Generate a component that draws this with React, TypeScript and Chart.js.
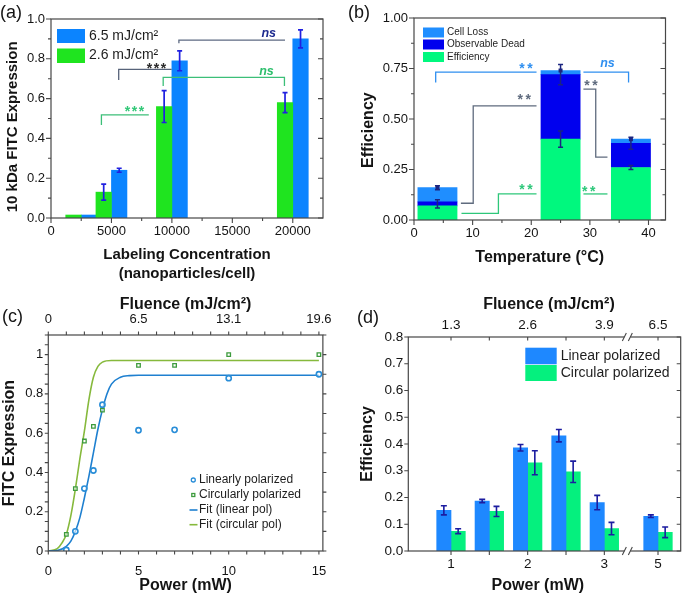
import React, { useEffect, useRef } from 'react';
import { Chart, registerables } from 'chart.js';

Chart.register(...registerables);

const FONT = '"Liberation Sans", Arial, Helvetica, sans-serif';
const INK = '#141414';
const FRAME = '#474747';
Chart.defaults.font.family = FONT;
Chart.defaults.color = INK;

/* ---------------- panel (a) ---------------- */
const concA = [2500, 5000, 10000, 20000];
const fitc26A = [0.015, 0.13, 0.56, 0.58];
const fitc26ErrA = [0, 0.04, 0.08, 0.05];
const fitc65A = [0.015, 0.24, 0.79, 0.9];
const fitc65ErrA = [0, 0.01, 0.05, 0.045];
const seriesA = ['2.6 mJ/cm²', '6.5 mJ/cm²'];
const concTicksA = [0, 5000, 10000, 15000, 20000];
const concMinorA = [2500, 7500, 12500, 17500];
const fitcTicksA = [0, 0.2, 0.4, 0.6, 0.8, 1];
const fitcMinorA = [0.1, 0.3, 0.5, 0.7, 0.9];
const bracketsA = [
  { color: '#57637a', pts: [[5600, 0.693], [5600, 0.747], [9980, 0.747]] },
  { color: '#5d6a82', pts: [[10580, 0.878], [10580, 0.894], [19360, 0.894]] },
  { color: '#3cbf78', pts: [[9280, 0.663], [9280, 0.707], [19310, 0.707], [19310, 0.663]] },
  { color: '#3cbf78', pts: [[4170, 0.467], [4170, 0.518], [8090, 0.518]] },
];
const marksA = [
  { text: '***', x: 8730, y: 0.769, color: '#2b2b2b' },
  { text: 'ns', x: 18010, y: 0.928, color: '#1d2a8f' },
  { text: 'ns', x: 17820, y: 0.735, color: '#2cbf6c' },
  { text: '***', x: 6900, y: 0.554, color: '#33c878' },
];

/* ---------------- panel (b) ---------------- */
const tempB = [4, 25, 37];
const effB = [0.07, 0.4, 0.26];
const deadB = [0.02, 0.32, 0.12];
const lossB = [0.07, 0.02, 0.02];
const seriesB = ['Cell Loss', 'Observable Dead', 'Efficiency'];
const totalMeanB = [0.16, 0.74, 0.4];
const totalLowB = [0.15, 0.67, 0.35];
const totalHighB = [0.17, 0.77, 0.41];
const effLowB = [0.06, 0.36, 0.25];
const effHighB = [0.1, 0.44, 0.27];
const tempTicksB = [0, 10, 20, 30, 40];
const tempMinorB = [5, 15, 25, 35];
const effTicksB = [0, 0.25, 0.5, 0.75, 1];
const effMinorB = [0.125, 0.375, 0.625, 0.875];
const bracketsB = [
  { color: '#2f8ff0', pts: [[3.7, 0.681], [3.7, 0.732], [20.9, 0.732]] },
  { color: '#2f8ff0', pts: [[28.9, 0.732], [36.6, 0.732], [36.6, 0.681]] },
  { color: '#5f6b7e', pts: [[8.0, 0.083], [10.1, 0.083], [10.1, 0.565], [20.9, 0.565]] },
  { color: '#5f6b7e', pts: [[28.9, 0.648], [31.0, 0.648], [31.0, 0.311], [33.0, 0.311]] },
  { color: '#2ec77a', pts: [[8.1, 0.033], [14.4, 0.033], [14.4, 0.129], [20.9, 0.129]] },
  { color: '#2ec77a', pts: [[28.9, 0.129], [33.0, 0.129]] },
];
const marksB = [
  { text: '**', x: 19.1, y: 0.769, color: '#2f8ff0' },
  { text: 'ns', x: 33.0, y: 0.776, color: '#2f8ff0' },
  { text: '**', x: 18.8, y: 0.612, color: '#5f6b7e' },
  { text: '**', x: 30.2, y: 0.683, color: '#5f6b7e' },
  { text: '**', x: 19.1, y: 0.169, color: '#2ec77a' },
  { text: '**', x: 29.8, y: 0.157, color: '#2ec77a' },
];

/* ---------------- panel (c) ---------------- */
const powerC = [1, 1.5, 2, 2.5, 3, 5, 7, 10, 15];
const linearC = [0.005, 0.1, 0.318, 0.41, 0.745, 0.615, 0.617, 0.88, 0.9];
const circularC = [0.085, 0.318, 0.56, 0.635, 0.718, 0.945, 0.945, 1.0, 1.0];
const fitLinPowerC = [0, 0.5, 1, 1.25, 1.5, 1.75, 2, 2.25, 2.5, 2.75, 3, 3.25, 3.5, 4, 4.5, 5, 15];
const fitLinValueC = [0, 0.003, 0.024, 0.05, 0.1, 0.17, 0.27, 0.38, 0.5, 0.62, 0.72, 0.8, 0.85, 0.885, 0.893, 0.895, 0.895];
const fitCirPowerC = [0, 0.5, 0.75, 1, 1.25, 1.5, 1.75, 2, 2.25, 2.5, 2.75, 3, 3.5, 15];
const fitCirValueC = [0, 0.012, 0.04, 0.085, 0.18, 0.315, 0.47, 0.61, 0.77, 0.885, 0.94, 0.962, 0.97, 0.97];
const seriesC = ['Linearly polarized', 'Circularly polarized', 'Fit (linear pol)', 'Fit (circular pol)'];
const powerTicksC = [0, 5, 10, 15];
const fluenceLabelsC = ['0', '6.5', '13.1', '19.6'];
const exprTicksC = [0, 0.2, 0.4, 0.6, 0.8, 1];

/* ---------------- panel (d) ---------------- */
const powerD = [1, 1.5, 2, 2.5, 3, 5];
const linD = [0.152, 0.187, 0.386, 0.431, 0.181, 0.13];
const linErrD = [0.017, 0.006, 0.012, 0.023, 0.027, 0.005];
const circD = [0.074, 0.148, 0.33, 0.296, 0.084, 0.07];
const circErrD = [0.009, 0.019, 0.045, 0.04, 0.023, 0.02];
const seriesD = ['Linear polarized', 'Circular polarized'];
const powerTicksD = [1, 2, 3, 5];
const powerMinorD = [1.5, 2.5];
const fluenceLabelsD = ['1.3', '2.6', '3.9', '6.5'];
const effTicksD = [0, 0.1, 0.2, 0.3, 0.4, 0.5, 0.6, 0.7, 0.8];
const BREAK_D = [3.3, 4.6];
const toAxisD = (p: number) => (p > BREAK_D[0] ? p - (BREAK_D[1] - BREAK_D[0]) : p);

/* ---------------- helpers ---------------- */
function baseOptions(padding: any) {
  return {
    responsive: false,
    maintainAspectRatio: false,
    animation: false,
    devicePixelRatio: 1,
    events: [],
    layout: { padding },
    plugins: { legend: { display: false }, tooltip: { enabled: false }, title: { display: false } },
  };
}

function ax(position: string, min: number, max: number, tickValues: number[], label: any, fixed: number, pad: number, fontSize: number, title?: any) {
  const horizontal = position === 'top' || position === 'bottom';
  return {
    type: 'linear',
    position,
    min,
    max,
    offset: false,
    grid: { display: false, drawTicks: false, offset: false },
    border: { display: false },
    afterBuildTicks: (s: any) => {
      s.ticks = tickValues.map((value) => ({ value }));
    },
    afterFit: (s: any) => {
      if (horizontal) s.height = fixed;
      else s.width = fixed;
    },
    ticks: {
      padding: pad,
      font: { family: FONT, size: fontSize },
      color: INK,
      maxRotation: 0,
      minRotation: 0,
      autoSkip: false,
      callback: label,
    },
    title: title ? { display: true, color: INK, ...title } : { display: false },
  };
}

const bold = (size: number, lineHeight = 1.2) => ({ family: FONT, size, weight: 'bold', lineHeight });

function decor(draw: (chart: any) => void) {
  return {
    id: 'decor',
    afterDraw(chart: any) {
      const ctx = chart.ctx;
      ctx.save();
      draw(chart);
      ctx.restore();
    },
  };
}

function frame(chart: any) {
  const { ctx, chartArea: a } = chart;
  ctx.strokeStyle = FRAME;
  ctx.lineWidth = 1.2;
  ctx.strokeRect(a.left, a.top, a.right - a.left, a.bottom - a.top);
}

function tickMarks(chart: any, scaleId: string, values: number[], side: string, len: number, outward: boolean) {
  const { ctx, chartArea: a } = chart;
  const s = chart.scales[scaleId];
  const d = outward ? len : -len;
  ctx.strokeStyle = FRAME;
  ctx.lineWidth = 1.1;
  ctx.beginPath();
  for (const v of values) {
    const p = s.getPixelForValue(v);
    if (side === 'left') { ctx.moveTo(a.left, p); ctx.lineTo(a.left - d, p); }
    else if (side === 'right') { ctx.moveTo(a.right, p); ctx.lineTo(a.right + d, p); }
    else if (side === 'top') { ctx.moveTo(p, a.top); ctx.lineTo(p, a.top - d); }
    else { ctx.moveTo(p, a.bottom); ctx.lineTo(p, a.bottom + d); }
  }
  ctx.stroke();
}

function errorBars(chart: any, dsIndex: number, lo: number[], hi: number[], color: string, cap: number, lw: number) {
  const ctx = chart.ctx;
  const meta = chart.getDatasetMeta(dsIndex);
  const ys = chart.scales.y;
  ctx.strokeStyle = color;
  ctx.lineWidth = lw;
  meta.data.forEach((el: any, i: number) => {
    if (!(hi[i] - lo[i] > 0)) return;
    const x = el.x;
    const y1 = ys.getPixelForValue(lo[i]);
    const y2 = ys.getPixelForValue(hi[i]);
    ctx.beginPath();
    ctx.moveTo(x, y1); ctx.lineTo(x, y2);
    ctx.moveTo(x - cap / 2, y1); ctx.lineTo(x + cap / 2, y1);
    ctx.moveTo(x - cap / 2, y2); ctx.lineTo(x + cap / 2, y2);
    ctx.stroke();
  });
}

function drawBrackets(chart: any, list: any[]) {
  const { ctx } = chart;
  const xs = chart.scales.x;
  const ys = chart.scales.y;
  ctx.lineWidth = 1.3;
  for (const b of list) {
    ctx.strokeStyle = b.color;
    ctx.beginPath();
    b.pts.forEach(([x, y]: number[], i: number) => {
      const px = xs.getPixelForValue(x);
      const py = ys.getPixelForValue(y);
      if (i) ctx.lineTo(px, py);
      else ctx.moveTo(px, py);
    });
    ctx.stroke();
  }
}

function drawMarks(chart: any, list: any[], starGap: number) {
  const { ctx } = chart;
  const xs = chart.scales.x;
  const ys = chart.scales.y;
  for (const m of list) {
    const px = xs.getPixelForValue(m.x);
    const py = ys.getPixelForValue(m.y);
    ctx.fillStyle = m.color;
    ctx.textAlign = 'center';
    ctx.textBaseline = 'alphabetic';
    if (m.text.startsWith('*')) {
      const size = 14;
      ctx.font = `bold ${size}px ${FONT}`;
      const n = m.text.length;
      for (let i = 0; i < n; i++) ctx.fillText('*', px + (i - (n - 1) / 2) * starGap, py + 0.58 * size);
    } else {
      ctx.font = `italic bold 12.5px ${FONT}`;
      ctx.fillText(m.text, px, py + 3.3);
    }
  }
}

function panelLabel(ctx: any, text: string, x: number, y: number) {
  ctx.fillStyle = INK;
  ctx.font = `18px ${FONT}`;
  ctx.textAlign = 'left';
  ctx.textBaseline = 'middle';
  ctx.fillText(text, x, y);
}

function legendText(ctx: any, text: string, x: number, y: number, size: number) {
  ctx.fillStyle = '#1e1e1e';
  ctx.font = `${size}px ${FONT}`;
  ctx.textAlign = 'left';
  ctx.textBaseline = 'middle';
  ctx.fillText(text, x, y);
}

/* ---------------- colors ---------------- */
const BLUE_A = '#0b84ff';
const GREEN_A = '#1fe41f';
const ERR_A = '#2020e0';
const LOSS_B = '#1f8eff';
const DEAD_B = '#0000ee';
const EFF_B = '#00f87e';
const ERR_B = '#1b2480';
const BLUE_PT = '#2a8ed8';
const BLUE_LINE = '#1f80d0';
const GREEN_PT = '#3d9b3d';
const GREEN_LINE = '#86b93c';
const BLUE_D = '#1e88ff';
const GREEN_D = '#05f07e';
const ERR_D = '#1c1ca0';

/* ---------------- builders ---------------- */
function buildA(canvas: HTMLCanvasElement) {
  return new Chart(canvas, {
    type: 'bar',
    data: {
      datasets: [
        { label: seriesA[0], data: concA.map((x, i) => ({ x, y: fitc26A[i] })), backgroundColor: GREEN_A, barThickness: 15.5, borderWidth: 0 },
        { label: seriesA[1], data: concA.map((x, i) => ({ x, y: fitc65A[i] })), backgroundColor: BLUE_A, barThickness: 15.5, borderWidth: 0 },
      ],
    },
    options: {
      ...baseOptions({ left: 0, top: 19, right: 17, bottom: 0 }),
      scales: {
        x: ax('bottom', 0, 22500, concTicksA, (v: number) => String(v), 74, 5.9, 13, {
          text: ['Labeling Concentration', '(nanoparticles/cell)'],
          font: bold(15, 1.27),
          padding: { top: 0, bottom: 8.5 },
        }),
        y: ax('left', 0, 1, fitcTicksA, (v: number) => v.toFixed(1), 51, 6, 13, {
          text: '10 kDa FITC Expression    ',
          font: bold(15),
          padding: { top: 3.5, bottom: 0 },
        }),
      },
    } as any,
    plugins: [
      decor((chart) => {
        const ctx = chart.ctx;
        drawBrackets(chart, bracketsA);
        drawMarks(chart, marksA, 7);
        errorBars(chart, 0, fitc26A.map((v, i) => v - fitc26ErrA[i]), fitc26A.map((v, i) => v + fitc26ErrA[i]), ERR_A, 5, 1.7);
        errorBars(chart, 1, fitc65A.map((v, i) => v - fitc65ErrA[i]), fitc65A.map((v, i) => v + fitc65ErrA[i]), ERR_A, 5, 1.7);
        frame(chart);
        tickMarks(chart, 'y', fitcTicksA, 'left', 5, true);
        tickMarks(chart, 'y', fitcMinorA, 'left', 3, true);
        tickMarks(chart, 'y', fitcTicksA, 'right', 5, false);
        tickMarks(chart, 'y', fitcMinorA, 'right', 3, false);
        tickMarks(chart, 'x', concTicksA, 'bottom', 5, true);
        tickMarks(chart, 'x', concMinorA, 'bottom', 3, true);
        ctx.fillStyle = BLUE_A;
        ctx.fillRect(57, 29, 28, 14);
        ctx.fillStyle = GREEN_A;
        ctx.fillRect(57, 48.5, 28, 14.5);
        legendText(ctx, seriesA[1], 89, 36, 14);
        legendText(ctx, seriesA[0], 89, 55.5, 14);
        panelLabel(ctx, '(a)', 0, 13);
      }),
    ],
  });
}

function buildB(canvas: HTMLCanvasElement) {
  const xAxis: any = ax('bottom', 0, 42.9, tempTicksB, (v: number) => String(v), 72, 5.5, 13, {
    text: 'Temperature (°C)',
    font: bold(16),
    padding: { top: 0, bottom: 24.4 },
  });
  xAxis.stacked = true;
  const yAxis: any = ax('left', 0, 1, effTicksB, (v: number) => v.toFixed(2), 74, 6, 13, {
    text: 'Efficiency     ',
    font: bold(16),
    padding: { top: 18.7, bottom: 0 },
  });
  yAxis.stacked = true;
  return new Chart(canvas, {
    type: 'bar',
    data: {
      datasets: [
        { label: seriesB[2], data: tempB.map((x, i) => ({ x, y: effB[i] })), backgroundColor: EFF_B, barThickness: 39.2, borderWidth: 0, stack: 's' },
        { label: seriesB[1], data: tempB.map((x, i) => ({ x, y: deadB[i] })), backgroundColor: DEAD_B, barThickness: 39.2, borderWidth: 0, stack: 's' },
        { label: seriesB[0], data: tempB.map((x, i) => ({ x, y: lossB[i] })), backgroundColor: LOSS_B, barThickness: 39.2, borderWidth: 0, stack: 's' },
      ],
    },
    options: {
      ...baseOptions({ left: 0, top: 18, right: 19.5, bottom: 0 }),
      scales: { x: xAxis, y: yAxis },
    } as any,
    plugins: [
      decor((chart) => {
        const ctx = chart.ctx;
        drawBrackets(chart, bracketsB);
        drawMarks(chart, marksB, 8);
        errorBars(chart, 0, totalLowB, totalHighB, ERR_B, 5, 1.5);
        errorBars(chart, 0, effLowB, effHighB, ERR_B, 5, 1.5);
        const meta = chart.getDatasetMeta(0);
        ctx.fillStyle = ERR_B;
        meta.data.forEach((el: any, i: number) => {
          const py = chart.scales.y.getPixelForValue(totalMeanB[i]);
          ctx.fillRect(el.x - 2, py - 2, 4, 4);
        });
        frame(chart);
        tickMarks(chart, 'y', effTicksB, 'left', 5, true);
        tickMarks(chart, 'y', effMinorB, 'left', 3, true);
        tickMarks(chart, 'y', effTicksB, 'right', 5, false);
        tickMarks(chart, 'y', effMinorB, 'right', 3, false);
        tickMarks(chart, 'x', tempTicksB, 'bottom', 5, true);
        tickMarks(chart, 'x', tempMinorB, 'bottom', 3, true);
        const boxes = [LOSS_B, DEAD_B, EFF_B];
        const rows = [27.5, 39.5, 52];
        boxes.forEach((c, i) => {
          ctx.fillStyle = c;
          ctx.fillRect(83, rows[i], 21, 10);
          legendText(ctx, seriesB[i], 107, rows[i] + 5, 10);
        });
        panelLabel(ctx, '(b)', 8, 13.5);
      }),
    ],
  });
}

function buildC(canvas: HTMLCanvasElement) {
  return new Chart(canvas, {
    type: 'line',
    data: {
      datasets: [
        {
          label: seriesC[0],
          data: powerC.map((x, i) => ({ x, y: linearC[i] })),
          showLine: false,
          pointStyle: 'circle',
          pointRadius: 2.6,
          pointBorderWidth: 1.6,
          borderColor: BLUE_PT,
          pointBorderColor: BLUE_PT,
          pointBackgroundColor: 'rgba(255,255,255,0.6)',
          order: 0,
        },
        {
          label: seriesC[1],
          data: powerC.map((x, i) => ({ x, y: circularC[i] })),
          showLine: false,
          pointStyle: 'rect',
          pointRadius: 2.5,
          pointBorderWidth: 1.3,
          borderColor: GREEN_PT,
          pointBorderColor: GREEN_PT,
          pointBackgroundColor: 'rgba(255,255,255,0.6)',
          order: 0,
        },
        {
          label: seriesC[2],
          data: fitLinPowerC.map((x, i) => ({ x, y: fitLinValueC[i] })),
          borderColor: BLUE_LINE,
          borderWidth: 1.6,
          pointRadius: 0,
          cubicInterpolationMode: 'monotone',
          order: 1,
        },
        {
          label: seriesC[3],
          data: fitCirPowerC.map((x, i) => ({ x, y: fitCirValueC[i] })),
          borderColor: GREEN_LINE,
          borderWidth: 1.6,
          pointRadius: 0,
          cubicInterpolationMode: 'monotone',
          order: 1,
        },
      ],
    },
    options: {
      ...baseOptions({ left: 0, top: 0, right: 17, bottom: 0 }),
      scales: {
        x: ax('bottom', 0, 15.22, powerTicksC, (v: number) => String(v), 44, 12.5, 13, {
          text: 'Power (mW)',
          font: bold(16),
          padding: { top: 0, bottom: 0 },
        }),
        x2: ax('top', 0, 15.22, powerTicksC, (v: number) => fluenceLabelsC[powerTicksC.indexOf(v)], 43, 8.2, 13, {
          text: 'Fluence (mJ/cm²)',
          font: bold(16),
          padding: { top: 2.7, bottom: 0 },
        }),
        y: ax('left', 0, 1.1, exprTicksC, (v: number) => String(Math.round(v * 10) / 10), 48.3, 5, 13, {
          text: 'FITC Expression',
          font: bold(16),
          padding: { top: 0, bottom: 0 },
        }),
      },
    } as any,
    plugins: [
      decor((chart) => {
        const ctx = chart.ctx;
        frame(chart);
        const leftMinor: number[] = [];
        for (let k = 0; k <= 22; k++) leftMinor.push(k * 0.05);
        const rightMinor: number[] = [];
        for (let k = 0; k <= 11; k++) rightMinor.push(k * 0.1);
        const unit: number[] = [];
        for (let k = 0; k <= 15; k++) unit.push(k);
        tickMarks(chart, 'y', leftMinor, 'left', 3.5, true);
        tickMarks(chart, 'y', rightMinor, 'right', 3.5, true);
        tickMarks(chart, 'x', unit, 'bottom', 3.5, true);
        tickMarks(chart, 'x', unit, 'top', 3.5, true);
        // legend
        const rows = [188, 203, 218, 232.7];
        ctx.lineWidth = 1.3;
        ctx.strokeStyle = BLUE_PT;
        ctx.beginPath();
        ctx.arc(193.3, rows[0], 2, 0, Math.PI * 2);
        ctx.stroke();
        ctx.strokeStyle = GREEN_PT;
        ctx.strokeRect(191.8, rows[1] - 1.5, 3, 3);
        ctx.lineWidth = 1.6;
        ctx.strokeStyle = BLUE_LINE;
        ctx.beginPath();
        ctx.moveTo(189.5, rows[2]);
        ctx.lineTo(197.5, rows[2]);
        ctx.stroke();
        ctx.strokeStyle = GREEN_LINE;
        ctx.beginPath();
        ctx.moveTo(189.5, rows[3]);
        ctx.lineTo(197.5, rows[3]);
        ctx.stroke();
        seriesC.forEach((s, i) => legendText(ctx, s, 199, rows[i], 12));
        panelLabel(ctx, '(c)', 2, 25);
      }),
    ],
  });
}

function buildD(canvas: HTMLCanvasElement) {
  const axisTicks = powerTicksD.map(toAxisD);
  return new Chart(canvas, {
    type: 'bar',
    data: {
      datasets: [
        { label: seriesD[0], data: powerD.map((p, i) => ({ x: toAxisD(p), y: linD[i] })), backgroundColor: BLUE_D, barThickness: 14.3, borderWidth: 0 },
        { label: seriesD[1], data: powerD.map((p, i) => ({ x: toAxisD(p), y: circD[i] })), backgroundColor: GREEN_D, barThickness: 14.3, borderWidth: 0 },
      ],
    },
    options: {
      ...baseOptions({ left: 0, top: 0, right: 4.3, bottom: 0 }),
      scales: {
        x: ax('bottom', 0.443, 3.996, axisTicks, (v: number, i: number) => String(powerTicksD[i]), 44, 5.2, 13.5, {
          text: 'Power (mW)   ',
          font: bold(16),
          padding: { top: 0, bottom: 0 },
        }),
        x2: ax('top', 0.443, 3.996, axisTicks, (v: number, i: number) => fluenceLabelsD[i], 45, 3.9, 13.5, {
          text: '  Fluence (mJ/cm²)',
          font: bold(16),
          padding: { top: 2.7, bottom: 0 },
        }),
        y: ax('left', 0, 0.8, effTicksD, (v: number) => v.toFixed(1), 68.3, 5, 13.5, {
          text: 'Efficiency',
          font: bold(16),
          padding: { top: 18.4, bottom: 0 },
        }),
      },
    } as any,
    plugins: [
      decor((chart) => {
        const ctx = chart.ctx;
        errorBars(chart, 0, linD.map((v, i) => v - linErrD[i]), linD.map((v, i) => v + linErrD[i]), ERR_D, 6, 1.6);
        errorBars(chart, 1, circD.map((v, i) => v - circErrD[i]), circD.map((v, i) => v + circErrD[i]), ERR_D, 6, 1.6);
        frame(chart);
        const minor = powerMinorD.map(toAxisD);
        tickMarks(chart, 'y', effTicksD, 'left', 4, true);
        tickMarks(chart, 'y', effTicksD, 'right', 4, false);
        tickMarks(chart, 'x', axisTicks, 'bottom', 4, true);
        tickMarks(chart, 'x', minor, 'bottom', 4, true);
        tickMarks(chart, 'x', axisTicks, 'top', 3.5, false);
        tickMarks(chart, 'x', minor, 'top', 3.5, false);
        // axis break marks
        const a = chart.chartArea;
        const bx = chart.scales.x.getPixelForValue(BREAK_D[0]);
        for (const yy of [a.top, a.bottom]) {
          ctx.fillStyle = '#fff';
          ctx.fillRect(bx - 3, yy - 2, 6, 4);
          ctx.strokeStyle = FRAME;
          ctx.lineWidth = 1.1;
          ctx.beginPath();
          ctx.moveTo(bx - 5, yy + 4);
          ctx.lineTo(bx - 1, yy - 4);
          ctx.moveTo(bx + 1, yy + 4);
          ctx.lineTo(bx + 5, yy - 4);
          ctx.stroke();
        }
        // legend
        ctx.fillStyle = BLUE_D;
        ctx.fillRect(185.3, 55.7, 31.4, 16.6);
        ctx.fillStyle = GREEN_D;
        ctx.fillRect(185.3, 73, 31.4, 16);
        legendText(ctx, seriesD[0], 220.7, 64, 14);
        legendText(ctx, seriesD[1], 220.7, 81, 14);
        panelLabel(ctx, '(d)', 17, 26);
      }),
    ],
  });
}

function ChartPanel({ x, y, w, h, build }: { x: number; y: number; w: number; h: number; build: (c: HTMLCanvasElement) => Chart }) {
  const ref = useRef<HTMLCanvasElement>(null);
  useEffect(() => {
    const chart = build(ref.current as HTMLCanvasElement);
    return () => chart.destroy();
  }, [build]);
  return (
    <canvas
      ref={ref}
      width={w}
      height={h}
      style={{ position: 'absolute', left: x, top: y, width: w, height: h, display: 'block' }}
    />
  );
}

export default function App() {
  return (
    <div style={{ position: 'fixed', left: 0, top: 0, width: 685, height: 595, background: '#ffffff', overflow: 'hidden' }}>
      <ChartPanel x={0} y={0} w={340} h={292} build={buildA} />
      <ChartPanel x={340} y={0} w={345} h={292} build={buildB} />
      <ChartPanel x={0} y={292} w={340} h={303} build={buildC} />
      <ChartPanel x={340} y={292} w={345} h={303} build={buildD} />
    </div>
  );
}
